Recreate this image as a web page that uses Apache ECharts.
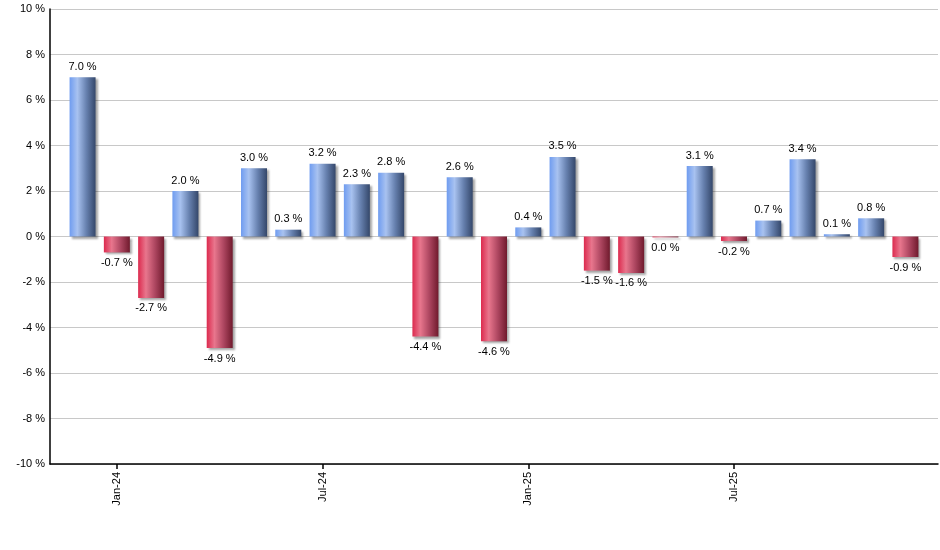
<!DOCTYPE html>
<html>
<head>
<meta charset="utf-8">
<script src="https://cdn.jsdelivr.net/npm/echarts@6/dist/echarts.min.js"></script>
<style>
html,body{margin:0;padding:0;background:#fff;}
#chart{width:940px;height:550px;}
</style>
</head>
<body>
<div id="chart"></div>
<script>
var categories = ['Dec-23','Jan-24','Feb-24','Mar-24','Apr-24','May-24','Jun-24','Jul-24','Aug-24','Sep-24','Oct-24','Nov-24','Dec-24',
  'Jan-25','Feb-25','Mar-25','Apr-25','May-25','Jun-25','Jul-25','Aug-25','Sep-25','Oct-25','Nov-25','Dec-25'];
var returns = [7.0,-0.7,-2.7,2.0,-4.9,3.0,0.3,3.2,2.3,2.8,-4.4,2.6,-4.6,0.4,3.5,-1.5,-1.6,-0.04,3.1,-0.2,0.7,3.4,0.1,0.8,-0.9];
var labeledTicks = ['Jan-24','Jul-24','Jan-25','Jul-25'];

function grad(pos){
  return pos ? {type:'linear',x:0,y:0,x2:1,y2:0,colorStops:[
      {offset:0,color:'#6f9cf0'},{offset:0.3,color:'#a8c2f0'},{offset:0.65,color:'#6680ae'},{offset:1,color:'#34476a'}]}
    : {type:'linear',x:0,y:0,x2:1,y2:0,colorStops:[
      {offset:0,color:'#dc2a4e'},{offset:0.3,color:'#e8768d'},{offset:0.65,color:'#ad4660'},{offset:1,color:'#701a2d'}]};
}
function fmt(v){
  var s = v.toFixed(1);
  if (s === '-0.0') s = '0.0';
  return s + ' %';
}
var tickIdx = labeledTicks.map(function(c){return categories.indexOf(c);});
var data = returns.map(function(v,i){
  return {value:[i,v], itemStyle:{color:grad(v>=0)}, label:{position: v>=0?'top':'bottom'}};
});

var chart = echarts.init(document.getElementById('chart'));
chart.setOption({
  animation:false,
  backgroundColor:'#fff',
  grid:{left:50,right:2,top:9,bottom:86,containLabel:false},
  xAxis:{
    type:'value', min:-0.95, max:24.95,
    splitLine:{show:false},
    axisLine:{show:true,onZero:false,lineStyle:{color:'#000',width:1.5}},
    axisTick:{show:true,customValues:tickIdx,length:5,lineStyle:{color:'#000',width:1.5}},
    axisLabel:{show:true,customValues:tickIdx,rotate:90,margin:8,color:'#000',fontFamily:'Liberation Sans, Arial, sans-serif',fontSize:11,
      formatter:function(v){return categories[Math.round(v)]||'';}}
  },
  yAxis:{
    type:'value', min:-10, max:10, interval:2,
    axisLine:{show:true,onZero:false,lineStyle:{color:'#000',width:1.5}},
    axisTick:{show:false},
    splitLine:{show:true,lineStyle:{color:'#c8c8c8',width:1}},
    axisLabel:{color:'#000',fontFamily:'Liberation Sans, Arial, sans-serif',fontSize:11,margin:5,
      formatter:function(v){return v+' %';}}
  },
  series:[{
    type:'bar',
    barWidth:26,
    data:data,
    itemStyle:{shadowColor:'rgba(0,0,0,0.35)',shadowOffsetX:2,shadowOffsetY:2,shadowBlur:2},
    label:{show:true,distance:5,color:'#000',fontFamily:'Liberation Sans, Arial, sans-serif',fontSize:11,
      formatter:function(p){return fmt(p.value[1]);}}
  }]
});
</script>
</body>
</html>
